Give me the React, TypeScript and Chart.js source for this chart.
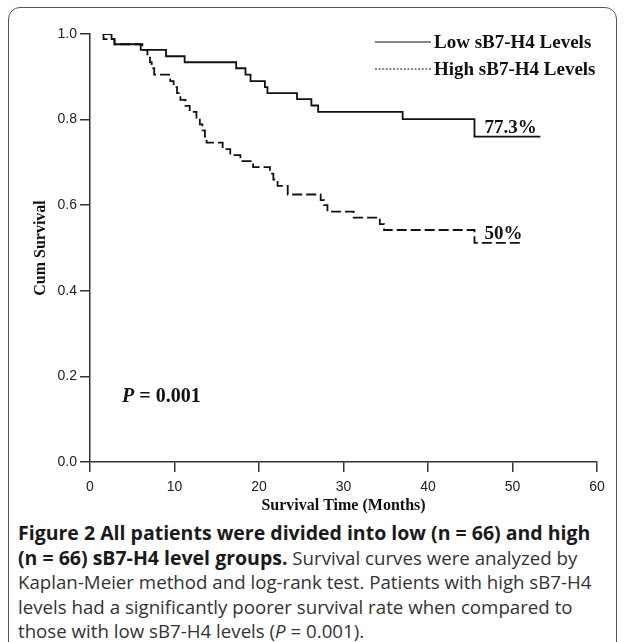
import React, { useEffect, useRef } from "react";
import { Chart, registerables } from "chart.js";

Chart.register(...registerables);

// ---- data ----
const seriesNames = ["Low sB7-H4 Levels", "High sB7-H4 Levels"];

const lowTimes = [1.5, 2.55, 2.9, 6.0, 9.0, 11.2, 17.3, 18.4, 19.0, 20.7, 21.0, 24.5, 26.2, 27.0, 37.0, 45.5, 53.3];
const lowSurv = [1.0, 0.988, 0.976, 0.963, 0.948, 0.934, 0.92, 0.905, 0.89, 0.876, 0.862, 0.848, 0.833, 0.818, 0.801, 0.76, 0.76];

const highTimes = [1.5, 1.6, 2.9, 6.2, 6.8, 7.1, 7.3, 7.6, 9.5, 9.9, 10.3, 10.7, 11.3, 11.8, 12.6, 13.0, 13.3, 13.6, 13.8, 15.7, 16.6, 17.8, 19.3, 21.3, 21.7, 22.2, 23.4, 27.3, 27.7, 28.1, 31.2, 34.3, 34.8, 45.5, 51.3];
const highSurv = [1.0, 0.988, 0.976, 0.963, 0.948, 0.934, 0.92, 0.905, 0.89, 0.876, 0.862, 0.846, 0.832, 0.818, 0.804, 0.789, 0.775, 0.76, 0.746, 0.731, 0.717, 0.703, 0.689, 0.674, 0.66, 0.645, 0.625, 0.612, 0.6, 0.585, 0.571, 0.556, 0.542, 0.512, 0.512];

const endLabels = ["77.3%", "50%"];
const pValueText = "0.001";

const xTicks = [0, 10, 20, 30, 40, 50, 60];
const yTicks = [0.0, 0.2, 0.4, 0.6, 0.8, 1.0];

const SERIF = '"Liberation Serif", "Times New Roman", serif';
const SANS = '"Liberation Sans", Arial, sans-serif';

const annotPlugin = {
  id: "kmAnnotations",
  afterDatasetsDraw(chart: any) {
    const { ctx, scales } = chart;
    const xs = scales.x;
    const ys = scales.y;
    ctx.save();
    ctx.fillStyle = "#111";
    ctx.strokeStyle = "#111";
    ctx.textAlign = "left";
    ctx.textBaseline = "middle";
    ctx.font = `bold 19px ${SERIF}`;

    // legend (top-right, inside plot)
    seriesNames.forEach((name, i) => {
      const y = 42 + i * 27;
      ctx.beginPath();
      ctx.lineWidth = i === 0 ? 1.2 : 1;
      ctx.setLineDash(i === 0 ? [] : [2, 1.6]);
      ctx.moveTo(375, y);
      ctx.lineTo(431, y);
      ctx.stroke();
      ctx.setLineDash([]);
      ctx.fillText(name, 434, y + 1);
    });

    // end-of-curve labels
    const ends = [
      { t: lowTimes[lowTimes.length - 2], v: lowSurv[lowSurv.length - 1] },
      { t: highTimes[highTimes.length - 2], v: highSurv[highSurv.length - 1] },
    ];
    ctx.textBaseline = "alphabetic";
    ends.forEach((e, i) => {
      ctx.fillText(endLabels[i], xs.getPixelForValue(e.t) + 10, ys.getPixelForValue(e.v) - 4);
    });

    // P value
    const px = xs.getPixelForValue(3.8);
    const py = ys.getPixelForValue(0.14);
    ctx.font = `italic bold 20px ${SERIF}`;
    ctx.fillText("P", px, py);
    const w = ctx.measureText("P").width;
    ctx.font = `bold 20px ${SERIF}`;
    ctx.fillText(" = " + pValueText, px + w, py);
    ctx.restore();
  },
};

export default function App() {
  const ref = useRef<HTMLCanvasElement | null>(null);

  useEffect(() => {
    document.documentElement.style.overflow = "hidden";
    const canvas = ref.current;
    if (!canvas) return;
    const chart = new Chart(canvas, {
      type: "line",
      data: {
        datasets: [
          {
            label: seriesNames[0],
            data: lowTimes.map((t, i) => ({ x: t, y: lowSurv[i] })),
            stepped: true,
            borderColor: "#111",
            borderWidth: 1.8,
            pointRadius: 0,
            fill: false,
          },
          {
            label: seriesNames[1],
            data: highTimes.map((t, i) => ({ x: t, y: highSurv[i] })),
            stepped: true,
            borderColor: "#111",
            borderWidth: 1.8,
            borderDash: [10, 4],
            pointRadius: 0,
            fill: false,
          },
        ],
      },
      options: {
        animation: false,
        responsive: false,
        maintainAspectRatio: false,
        layout: { padding: { left: 31, top: 34, right: 28, bottom: 4 } },
        plugins: {
          legend: { display: false },
          tooltip: { enabled: false },
        },
        scales: {
          x: {
            type: "linear",
            min: 0,
            max: 60,
            afterBuildTicks: (s: any) => {
              s.ticks = xTicks.map((v) => ({ value: v }));
            },
            ticks: {
              font: { family: SANS, size: 14 },
              color: "#222",
              padding: 7,
              maxRotation: 0,
            },
            grid: { drawOnChartArea: false, tickLength: 10, color: "#333", lineWidth: 1.5 },
            border: { color: "#333", width: 1.5 },
            title: {
              display: true,
              text: "Survival Time (Months)",
              font: { family: SERIF, size: 16, weight: "bold" },
              color: "#111",
              padding: 0,
            },
            afterFit: (s: any) => {
              s.height = 53;
            },
          },
          y: {
            type: "linear",
            min: 0,
            max: 1,
            afterBuildTicks: (s: any) => {
              s.ticks = yTicks.map((v) => ({ value: v }));
            },
            ticks: {
              font: { family: SANS, size: 14 },
              color: "#222",
              padding: 3,
              callback: (v: any) => Number(v).toFixed(1),
            },
            grid: { drawOnChartArea: false, tickLength: 10, color: "#333", lineWidth: 1.5 },
            border: { color: "#333", width: 1.5 },
            title: {
              display: true,
              text: "Cum Survival",
              font: { family: SERIF, size: 16, weight: "bold" },
              color: "#111",
              padding: 0,
            },
            afterFit: (s: any) => {
              s.width = 59;
            },
          },
        },
      },
      plugins: [annotPlugin],
    });
    return () => chart.destroy();
  }, []);

  const bold: React.CSSProperties = { fontWeight: 700, color: "#1a1a1a", fontSize: 19.5 };
  return (
    <div style={{ position: "absolute", left: 0, top: 0, width: 625, height: 642, overflow: "hidden", background: "#fff" }}>
      <div
        style={{
          position: "absolute",
          left: 8,
          top: 7,
          width: 607,
          height: 700,
          border: "1px solid #555",
          borderRadius: 12,
        }}
      />
      <canvas ref={ref} width={625} height={519} style={{ position: "absolute", left: 0, top: 0 }} />
      <div
        style={{
          position: "absolute",
          left: 18,
          top: 521,
          fontFamily: '"Open Sans", "Noto Sans", sans-serif',
          fontSize: 18.7,
          lineHeight: "24.5px",
          color: "#333",
          whiteSpace: "nowrap",
        }}
      >
        <div style={bold}>Figure 2 All patients were divided into low (n = 66) and high</div>
        <div>
          <span style={bold}>(n = 66) sB7-H4 level groups.</span> Survival curves were analyzed by
        </div>
        <div>Kaplan-Meier method and log-rank test. Patients with high sB7-H4</div>
        <div>levels had a significantly poorer survival rate when compared to</div>
        <div>
          those with low sB7-H4 levels (<i>P</i> = 0.001).
        </div>
      </div>
    </div>
  );
}
